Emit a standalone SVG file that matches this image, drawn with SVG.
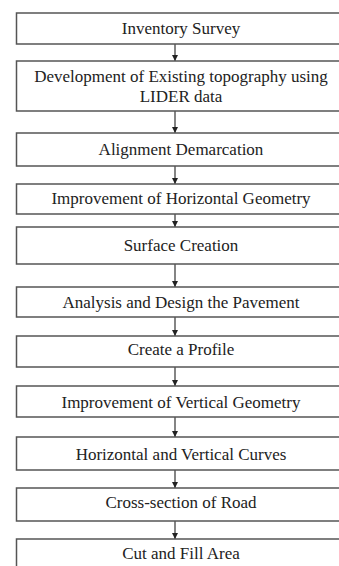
<svg xmlns="http://www.w3.org/2000/svg" width="339" height="566" viewBox="0 0 339 566">
<defs>
<style>
.box{fill:#fff;stroke:#555;stroke-width:1.5}
.t{font-family:'Liberation Serif','Times New Roman',serif;font-size:17px;fill:#222;text-anchor:middle;dominant-baseline:central}
.c{stroke:#333;stroke-width:1.2;fill:none;marker-end:url(#ah)}
</style>
<marker id="ah" viewBox="0 0 6 6" refX="6" refY="3" markerWidth="6" markerHeight="6" markerUnits="userSpaceOnUse" orient="auto">
<path d="M0,0 L6,3 L0,6 Z" fill="#222"/>
</marker>
</defs>
<rect width="339" height="566" fill="#fff"/>
<g id="connectors">
<line class="c" x1="175" y1="44" x2="175" y2="61"/>
<line class="c" x1="175" y1="111" x2="175" y2="133"/>
<line class="c" x1="175" y1="166" x2="175" y2="184"/>
<line class="c" x1="175" y1="214" x2="175" y2="227"/>
<line class="c" x1="175" y1="264" x2="175" y2="287"/>
<line class="c" x1="175" y1="317" x2="175" y2="336"/>
<line class="c" x1="175" y1="367" x2="175" y2="386"/>
<line class="c" x1="175" y1="417" x2="175" y2="437"/>
<line class="c" x1="175" y1="470" x2="175" y2="488"/>
<line class="c" x1="175" y1="521" x2="175" y2="539"/>
</g>
<g id="n1"><rect class="box" x="16.5" y="13" width="330" height="31"/><text class="t" x="181" y="28">Inventory Survey</text></g>
<g id="n2"><rect class="box" x="16.5" y="61" width="330" height="50"/><text class="t" x="181" y="76.5">Development of Existing topography using</text><text class="t" x="181" y="96.5">LIDER data</text></g>
<g id="n3"><rect class="box" x="16.5" y="133" width="330" height="33"/><text class="t" x="181" y="149">Alignment Demarcation</text></g>
<g id="n4"><rect class="box" x="16.5" y="184" width="330" height="30"/><text class="t" x="181" y="198">Improvement of Horizontal Geometry</text></g>
<g id="n5"><rect class="box" x="16.5" y="227" width="330" height="37"/><text class="t" x="181" y="245">Surface Creation</text></g>
<g id="n6"><rect class="box" x="16.5" y="287" width="330" height="30"/><text class="t" x="181" y="302">Analysis and Design the Pavement</text></g>
<g id="n7"><rect class="box" x="16.5" y="336" width="330" height="31"/><text class="t" x="181" y="349">Create a Profile</text></g>
<g id="n8"><rect class="box" x="16.5" y="386" width="330" height="31"/><text class="t" x="181" y="402">Improvement of Vertical Geometry</text></g>
<g id="n9"><rect class="box" x="16.5" y="437" width="330" height="33"/><text class="t" x="181" y="454">Horizontal and Vertical Curves</text></g>
<g id="n10"><rect class="box" x="16.5" y="488" width="330" height="33"/><text class="t" x="181" y="502">Cross-section of Road</text></g>
<g id="n11"><rect class="box" x="16.5" y="539" width="330" height="40"/><text class="t" x="181" y="553">Cut and Fill Area</text></g>
</svg>
